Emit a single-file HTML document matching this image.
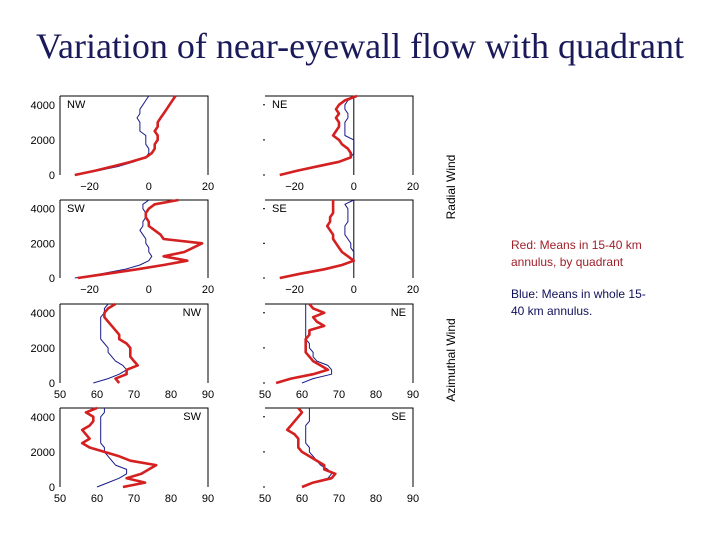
<!DOCTYPE html>
<html><head><meta charset="utf-8"><style>
body{margin:0;width:720px;height:540px;background:#fff;overflow:hidden;position:relative;font-family:"Liberation Sans",sans-serif}
#title{position:absolute;left:0;width:720px;top:25px;text-align:center;font-family:"Liberation Serif",serif;font-size:36px;color:#1a1a5a;white-space:nowrap}
.note{position:absolute;left:511px;font-size:12px;line-height:17px}
</style></head><body>
<div id="title">Variation of near-eyewall flow with quadrant</div>
<div class="note" style="top:237px;color:#a0202a">Red: Means in 15-40 km<br>annulus, by quadrant</div>
<div class="note" style="top:286px;color:#10105a">Blue: Means in whole 15-<br>40 km annulus.</div>
<svg id="chart" width="720" height="540" style="position:absolute;left:0;top:0"></svg>
<script>
const heights=[0,250,500,750,1000,1250,1500,1750,2000,2250,2500,2750,3000,3250,3500,3750,4000,4250,4500];
const yTicks=[0,2000,4000];
const radTicks=[-20,0,20];
const aziTicks=[50,60,70,80,90];
const nwRadRed=[-25,-18,-12,-6,-1,1,2,2,3,3,2,3,3,4,5,6,7,8,9];
const nwRadBlue=[-25,-17,-10,-5,-1,0,0,-1,-1,-1,-3,-3,-3,-4,-3,-3,-2,-1,0];
const neRadRed=[-25,-19,-12,-5,-1,-1,-2,-4,-5,-7,-6,-5,-5,-6,-5,-6,-5,-3,1];
const neRadBlue=[-25,-19,-12,-5,-1,0,0,0,0,-3,-3,-3,-3,-2,-2,-3,-3,-2,1];
const swRadRed=[-24,-14,-4,5,13,5,12,15,18,5,4,2,0,0,-1,-1,0,2,10];
const swRadBlue=[-25,-16,-8,-3,0,1,0,0,-1,-1,-2,-3,-2,-2,-1,-1,-2,-2,0];
const seRadRed=[-25,-18,-10,-4,0,-2,-4,-5,-6,-7,-7,-8,-9,-8,-8,-7,-7,-7,-7];
const seRadBlue=[-25,-18,-10,-4,0,0,0,-1,-1,-2,-3,-3,-3,-2,-2,-2,-2,-3,0];
const nwAziRed=[66,65,68,68,71,70,69,69,69,68,66,66,65,64,63,62,62,63,65];
const nwAziBlue=[59,63,66,68,67,65,64,63,63,62,61,61,61,61,61,61,62,62,63];
const neAziRed=[53,57,63,67,65,63,62,61,61,61,61,62,62,66,64,63,66,63,62];
const neAziBlue=[60,63,68,68,67,64,63,63,62,62,61,61,61,61,61,61,61,61,61];
const swAziRed=[67,73,68,72,74,76,69,66,62,58,56,58,57,56,58,59,59,57,60];
const swAziBlue=[60,63,66,68,68,65,64,63,62,62,61,61,61,61,61,61,61,62,62];
const seAziRed=[60,63,68,69,66,66,64,62,60,59,59,59,58,56,57,58,59,60,59];
const seAziBlue=[60,63,67,68,67,65,64,63,62,62,61,61,61,61,61,62,62,62,62];

const svg=document.getElementById('chart');
const NS='http://www.w3.org/2000/svg';
function mk(tag,attrs,parent){const e=document.createElementNS(NS,tag);for(const k in attrs)e.setAttribute(k,attrs[k]);(parent||svg).appendChild(e);return e;}
const panels=[
 {id:'nw-radial',lab:'NW',x0:60,top:96,bot:175,xmin:-30,xmax:20,ticks:radTicks,red:nwRadRed,blue:nwRadBlue,left:true,labRight:false,zero:false},
 {id:'ne-radial',lab:'NE',x0:265,top:96,bot:175,xmin:-30,xmax:20,ticks:radTicks,red:neRadRed,blue:neRadBlue,left:false,labRight:false,zero:true},
 {id:'sw-radial',lab:'SW',x0:60,top:200,bot:278,xmin:-30,xmax:20,ticks:radTicks,red:swRadRed,blue:swRadBlue,left:true,labRight:false,zero:false},
 {id:'se-radial',lab:'SE',x0:265,top:200,bot:278,xmin:-30,xmax:20,ticks:radTicks,red:seRadRed,blue:seRadBlue,left:false,labRight:false,zero:true},
 {id:'nw-azimuthal',lab:'NW',x0:60,top:304,bot:383,xmin:50,xmax:90,ticks:aziTicks,red:nwAziRed,blue:nwAziBlue,left:true,labRight:true,zero:false},
 {id:'ne-azimuthal',lab:'NE',x0:265,top:304,bot:383,xmin:50,xmax:90,ticks:aziTicks,red:neAziRed,blue:neAziBlue,left:false,labRight:true,zero:false},
 {id:'sw-azimuthal',lab:'SW',x0:60,top:408,bot:487,xmin:50,xmax:90,ticks:aziTicks,red:swAziRed,blue:swAziBlue,left:true,labRight:true,zero:false},
 {id:'se-azimuthal',lab:'SE',x0:265,top:408,bot:487,xmin:50,xmax:90,ticks:aziTicks,red:seAziRed,blue:seAziBlue,left:false,labRight:true,zero:false}
];
const W=148,YMAX=4500;
panels.forEach(p=>{
 const g=mk('g',{});
 
 
 const sx=v=>p.x0+(v-p.xmin)/(p.xmax-p.xmin)*W;
 const sy=z=>p.bot-z/YMAX*(p.bot-p.top);
 let d='M'+p.x0+','+p.top+'H'+(p.x0+W)+'V'+p.bot;
 if(p.left) d+='M'+p.x0+','+p.top+'V'+p.bot;
 const fr=mk('path',{d:d,fill:'none',stroke:'#000','stroke-width':1},g);
 
 
 if(p.zero){const z=mk('line',{x1:sx(0),x2:sx(0),y1:p.top,y2:p.bot,stroke:'#000','stroke-width':1},g);
  
  }
 yTicks.forEach(t=>{
  if(p.left){const tx=mk('text',{x:p.x0-5,y:sy(t)+4,'text-anchor':'end','font-size':11},g);tx.textContent=t;
   
   }
  else{const tk=mk('line',{x1:p.x0-2,x2:p.x0,y1:sy(t),y2:sy(t),stroke:'#000'},g);
   
   }
 });
 p.ticks.forEach(t=>{
  const tx=mk('text',{x:sx(t),y:p.bot+15,'text-anchor':'middle','font-size':11},g);
  tx.textContent=(t<0?'\u2212'+(-t):t);
  
  
 });
 const lb=mk('text',{x:p.labRight?p.x0+W-7:p.x0+7,y:p.top+12,'text-anchor':p.labRight?'end':'start','font-size':11},g);
 lb.textContent=p.lab;
 
 
 [['blue',p.blue,'#1a1a8a',1],['red',p.red,'#d42020',2.6]].forEach(([n,arr,c,w])=>{
  const pts=arr.map((v,i)=>sx(v).toFixed(1)+','+sy(heights[i]).toFixed(1)).join(' ');
  const pl=mk('polyline',{points:pts,fill:'none',stroke:c,'stroke-width':w,'stroke-linejoin':'round'},g);
  
  
 });
});
[['radial-axis-title','Radial Wind',455,187],['azimuthal-axis-title','Azimuthal Wind',455,360]].forEach(([n,t,x,y])=>{
 const tx=mk('text',{x:x,y:y,'text-anchor':'middle','font-size':12,transform:'rotate(-90 '+x+' '+y+')'});
 tx.textContent=t;
 
 
});
</script>
</body></html>
